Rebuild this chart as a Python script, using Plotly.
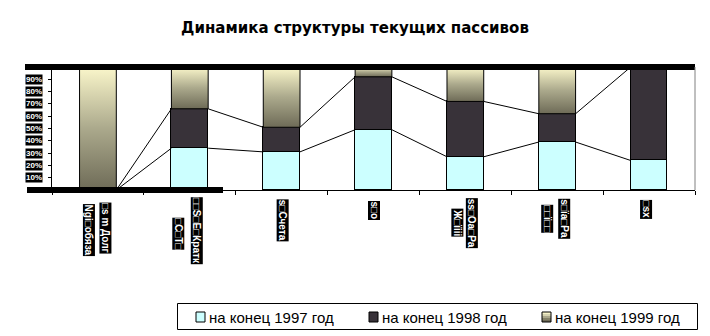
import plotly.graph_objects as go

# Category captions: each category is printed as one or two rotated lines
cat_line_a = ["□s m Долг", "□□S□E□Кратк", "s□Счета", "s□o", "ss□Oa□Pa", "s□ïa□Pa", "□sx"]
cat_line_b = ["Ngi□обяза", "□С□Т□", "", "", "Ж□ïiii", "□□ï□□", ""]

series_names = ["на конец 1997 год", "на конец 1998 год", "на конец 1999 год"]

# Shares of each liability item, %
share_1997 = [0, 34, 31, 49, 27, 39, 24]
share_1998 = [0, 32, 20, 43, 45, 23, 76]
share_1999 = [100, 34, 49, 8, 28, 38, 0]

y_tick_values = [0, 10, 20, 30, 40, 50, 60, 70, 80, 90, 100]
y_label_values = [10, 20, 30, 40, 50, 60, 70, 80, 90]

title_text = "Динамика структуры текущих пассивов"

W, H = 710, 336
L, R, T, B = 52, 695, 67, 190


def px_x(px):
    return (px - L) / (R - L)


def px_y(py):
    return (B - py) / (B - T)


BAR_W = 0.4
COL_1997 = "#CCFFFF"
COL_1998 = "#383239"
GRAD = [[0, "#6E6B57"], [0.5, "#ABA98C"], [1, "#FBF7CB"]]

xs = list(range(len(share_1997)))
top_1997 = share_1997
top_1998 = [a + b for a, b in zip(share_1997, share_1998)]

fig = go.Figure()
fig.add_bar(x=xs, y=share_1997, width=BAR_W, name=series_names[0],
            marker=dict(color=COL_1997, line=dict(color="black", width=1)),
            showlegend=False)
fig.add_bar(x=xs, y=share_1998, width=BAR_W, name=series_names[1],
            marker=dict(color=COL_1998, line=dict(color="black", width=1)),
            showlegend=False)

# 1999 segments drawn as filled outlines so each one carries its own gradient
for i, (b0, v) in enumerate(zip(top_1998, share_1999)):
    if v <= 0:
        continue
    x0, x1 = i - BAR_W / 2, i + BAR_W / 2
    fig.add_scatter(x=[x0, x1, x1, x0, x0], y=[b0, b0, b0 + v, b0 + v, b0],
                    mode="lines", fill="toself",
                    fillgradient=dict(type="vertical", colorscale=GRAD),
                    line=dict(color="black", width=1), name=series_names[2],
                    showlegend=False, hoverinfo="skip")

# Series lines joining the tops of the stacked segments between bars
for tops in (top_1997, top_1998):
    lx, ly = [], []
    for i in range(len(tops) - 1):
        lx += [i + BAR_W / 2, i + 1 - BAR_W / 2, None]
        ly += [tops[i], tops[i + 1], None]
    fig.add_scatter(x=lx, y=ly, mode="lines", line=dict(color="black", width=1),
                    showlegend=False, hoverinfo="skip")

annotations = []
shapes = []

# y tick captions
for v in y_label_values:
    annotations.append(dict(x=px_x(43), xref="paper", y=v, yref="y", text=f"{v}%",
                            xanchor="right", yanchor="middle", showarrow=False,
                            font=dict(family="Liberation Sans", size=8, color="white",
                                      weight="bold"),
                            bgcolor="black", borderpad=0))

# rotated category captions
label_pos = [
    (7.5, 228.5, -9, 230.5),
    (7, 230.5, -11, 234),
    (1, 220.5, 0, 0),
    (0.5, 210.5, 0, 0),
    (7, 223, -8, 222.5),
    (7.5, 219, -9.5, 219),
    (-2.5, 209, 0, 0),
]
for i, (ta, tb) in enumerate(zip(cat_line_a, cat_line_b)):
    sa, ya, sb, yb = label_pos[i]
    for txt, sh, yy in ((ta, sa, ya), (tb, sb, yb)):
        if not txt:
            continue
        annotations.append(dict(x=i, xref="x", xshift=sh, y=px_y(yy), yref="paper",
                                text=txt, textangle=90, showarrow=False,
                                xanchor="center", yanchor="middle",
                                font=dict(family="Liberation Sans", size=10, color="white",
                                          weight="bold"),
                                bgcolor="black", borderpad=0))

# heavy rules across the top and at the lower left of the plot
shapes.append(dict(type="rect", xref="paper", yref="paper", layer="above",
                   x0=px_x(25), x1=px_x(695), y0=px_y(70), y1=px_y(64),
                   fillcolor="black", line=dict(width=0)))
shapes.append(dict(type="rect", xref="paper", yref="paper", layer="above",
                   x0=px_x(27), x1=px_x(223), y0=px_y(193), y1=px_y(187),
                   fillcolor="black", line=dict(width=0)))
annotations.append(dict(x=px_x(145), xref="paper", y=px_y(66.5), yref="paper", text="=",
                        showarrow=False, font=dict(family="Liberation Sans", size=7, color="white")))
# right border of the plot area
shapes.append(dict(type="line", xref="paper", yref="paper", x0=1, x1=1, y0=0, y1=1,
                   line=dict(color="#808080", width=1)))

# legend box
shapes.append(dict(type="rect", xref="paper", yref="paper",
                   x0=px_x(177.5), x1=px_x(697.5), y0=px_y(329.5), y1=px_y(303.5),
                   line=dict(color="black", width=1), fillcolor="white"))
sw_x = [196, 369, 542]
txt_x = [207, 380, 553]
sw_top, sw_bot = 312, 322
for k in range(3):
    if k < 2:
        col = COL_1997 if k == 0 else COL_1998
        shapes.append(dict(type="rect", xref="paper", yref="paper",
                           x0=px_x(sw_x[k]), x1=px_x(sw_x[k] + 9),
                           y0=px_y(sw_bot), y1=px_y(sw_top),
                           fillcolor=col, line=dict(color="black", width=1)))
    else:
        steps = ["#F6F2C8", "#D6D3B0", "#ABA88C", "#858269", "#6E6B57"]
        hstep = (sw_bot - sw_top) / len(steps)
        for j, c in enumerate(steps):
            shapes.append(dict(type="rect", xref="paper", yref="paper",
                               x0=px_x(sw_x[k]), x1=px_x(sw_x[k] + 9),
                               y0=px_y(sw_top + (j + 1) * hstep), y1=px_y(sw_top + j * hstep),
                               fillcolor=c, line=dict(width=0)))
        shapes.append(dict(type="rect", xref="paper", yref="paper",
                           x0=px_x(sw_x[k]), x1=px_x(sw_x[k] + 9),
                           y0=px_y(sw_bot), y1=px_y(sw_top),
                           line=dict(color="black", width=1)))
    annotations.append(dict(x=px_x(txt_x[k]), xref="paper", y=px_y(317.5), yref="paper",
                            text=series_names[k], showarrow=False,
                            xanchor="left", yanchor="middle",
                            font=dict(family="Liberation Sans", size=15, color="black")))

fig.update_layout(
    width=W, height=H,
    margin=dict(l=L, r=W - R, t=T, b=H - B),
    paper_bgcolor="white", plot_bgcolor="white",
    barmode="stack", bargap=0,
    showlegend=False,
    title=dict(text=title_text, x=0.5, xref="container", xanchor="center",
               y=1 - 28 / H, yref="container", yanchor="middle",
               font=dict(family="DejaVu Sans", size=15, color="black", weight="bold")),
    xaxis=dict(range=[-0.5, len(xs) - 0.5], showticklabels=False,
               tickvals=[i - 0.5 for i in range(len(xs) + 1)],
               ticks="outside", ticklen=4, tickcolor="black",
               showline=True, linecolor="black", linewidth=1,
               showgrid=False, zeroline=False),
    yaxis=dict(range=[0, 100], tickvals=y_tick_values, showticklabels=False,
               ticks="outside", ticklen=3, tickcolor="black",
               showline=True, linecolor="black", linewidth=1,
               showgrid=False, zeroline=False),
    annotations=annotations,
    shapes=shapes,
)

fig.write_html("out.html")
